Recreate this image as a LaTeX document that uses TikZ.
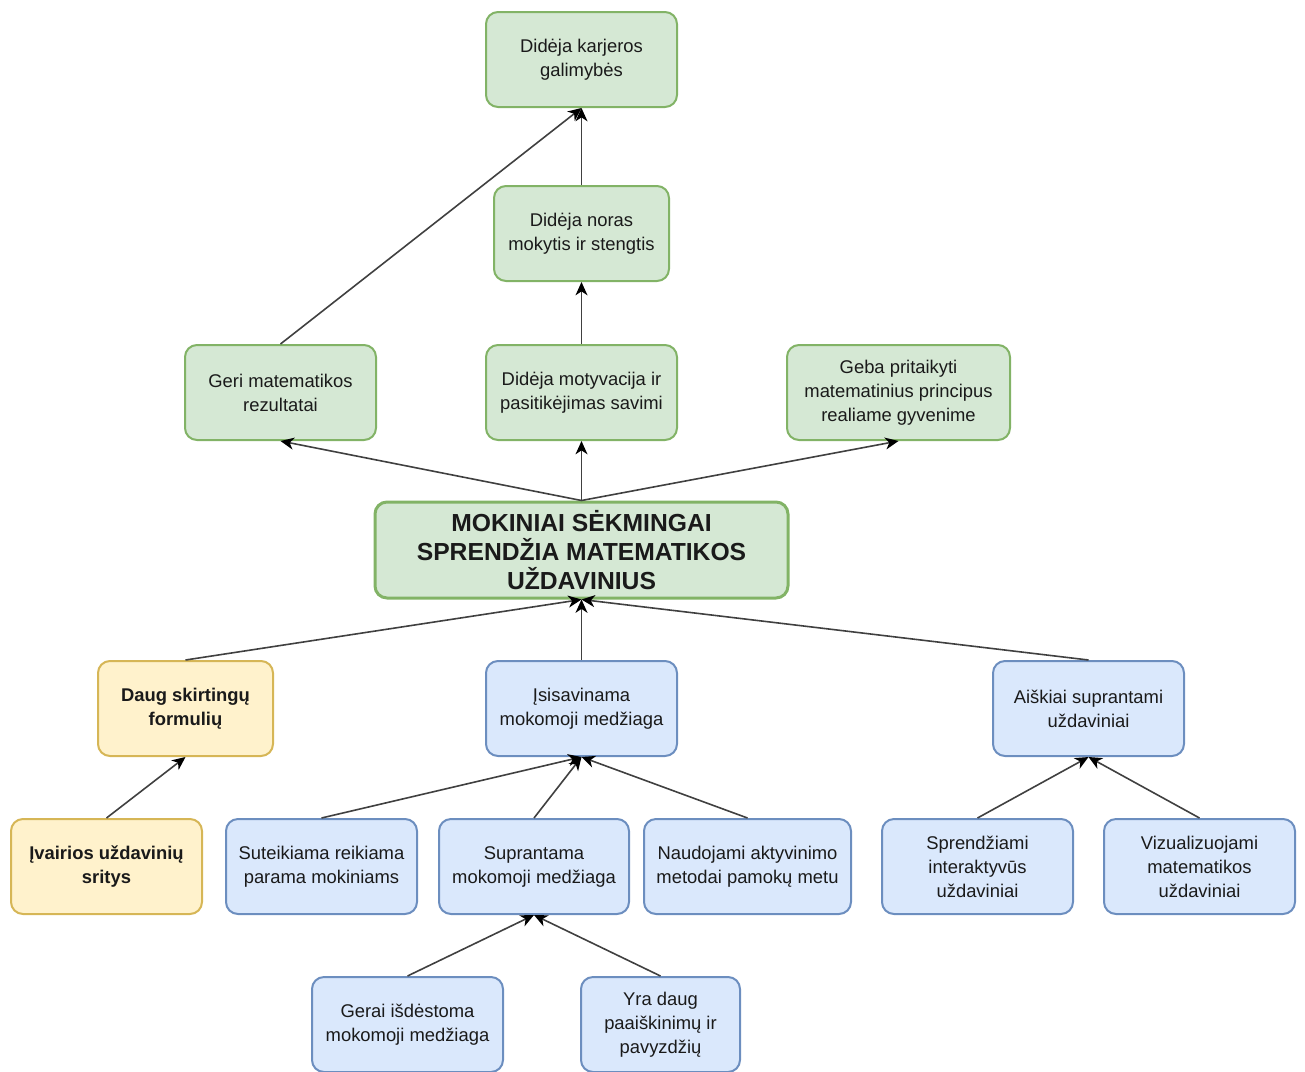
\documentclass[tikz,border=0pt]{standalone}
\usepackage{fontspec}
\setmainfont{Liberation Sans}
\usetikzlibrary{arrows.meta}
\definecolor{gfill}{HTML}{D5E8D4}
\definecolor{gdraw}{HTML}{82B366}
\definecolor{yfill}{HTML}{FFF2CC}
\definecolor{ydraw}{HTML}{D6B656}
\definecolor{bfill}{HTML}{DAE8FC}
\definecolor{bdraw}{HTML}{6C8EBF}
\definecolor{txt}{HTML}{1A1A1A}
\tikzset{
  box/.style={rectangle, rounded corners=9pt, line width=1.5pt, inner sep=0pt,
    minimum width=#1, minimum height=71.25pt, align=center, text=txt,
    font=\fontsize{13.8pt}{18pt}\selectfont},
  gbox/.style={box=#1, fill=gfill, draw=gdraw},
  ybox/.style={box=#1, fill=yfill, draw=ydraw, font=\fontsize{13.8pt}{18pt}\selectfont\bfseries},
  bbox/.style={box=#1, fill=bfill, draw=bdraw},
  link/.style={draw=black!75, line width=1.2pt,
    -{Stealth[length=10pt,width=9pt,inset=3pt,color=black]}},
}
\begin{document}
\begin{tikzpicture}[x=0.75pt, y=-0.75pt]
\useasboundingbox (0,0) rectangle (1305,1071);

% outcomes
\node[gbox=143.25pt] (karj) at (581.5,59.5) {Didėja karjeros\\galimybės};
\node[gbox=131.25pt] (noras) at (581.5,233.5) {Didėja noras\\mokytis ir stengtis};
\node[gbox=143.25pt] (geri) at (280.5,392.5) {Geri matematikos\\rezultatai};
\node[gbox=143.25pt] (motyv) at (581.5,392.5) {Didėja motyvacija ir\\pasitikėjimas savimi};
\node[gbox=167.25pt] (geba) at (898.5,392.5) {Geba pritaikyti\\matematinius principus\\realiame gyvenime};

% central statement
\node[box=309.75pt, minimum height=72pt, fill=gfill, draw=gdraw, line width=2.25pt,
      font=\fontsize{18.5pt}{21.75pt}\selectfont\bfseries] (main) at (581.5,550)
  {MOKINIAI SĖKMINGAI\\SPRENDŽIA MATEMATIKOS\\UŽDAVINIUS};

% causes
\node[ybox=131.25pt] (daug) at (185.5,708.5) {Daug skirtingų\\formulių};
\node[bbox=143.25pt] (isis) at (581.5,708.5) {Įsisavinama\\mokomoji medžiaga};
\node[bbox=143.25pt] (aisk) at (1088.5,708.5) {Aiškiai suprantami\\uždaviniai};

\node[ybox=143.25pt] (ivair) at (106.5,866.5) {Įvairios uždavinių\\sritys};
\node[bbox=143.25pt] (suteik) at (321.5,866.5) {Suteikiama reikiama\\parama mokiniams};
\node[bbox=142.5pt] (supr) at (534,866.5) {Suprantama\\mokomoji medžiaga};
\node[bbox=155.25pt] (naud) at (747.5,866.5) {Naudojami aktyvinimo\\metodai pamokų metu};
\node[bbox=143.25pt] (spren) at (977.5,866.5) {Sprendžiami\\interaktyvūs\\uždaviniai};
\node[bbox=143.25pt] (vizu) at (1199.5,866.5) {Vizualizuojami\\matematikos\\uždaviniai};

\node[bbox=143.25pt] (gerai) at (407.5,1024.5) {Gerai išdėstoma\\mokomoji medžiaga};
\node[bbox=119.25pt] (yra) at (660.5,1024.5) {Yra daug\\paaiškinimų ir\\pavyzdžių};

% links, each pointing to the node it leads to
\draw[link] (geri.north) -- (karj.south);
\draw[link] (noras.north) -- (karj.south);
\draw[link] (motyv.north) -- (noras.south);
\draw[link] (main.north) -- (geri.south);
\draw[link] (main.north) -- (motyv.south);
\draw[link] (main.north) -- (geba.south);
\draw[link] (daug.north) -- (main.south);
\draw[link] (isis.north) -- (main.south);
\draw[link] (aisk.north) -- (main.south);
\draw[link] (ivair.north) -- (daug.south);
\draw[link] (suteik.north) -- (isis.south);
\draw[link] (supr.north) -- (isis.south);
\draw[link] (naud.north) -- (isis.south);
\draw[link] (spren.north) -- (aisk.south);
\draw[link] (vizu.north) -- (aisk.south);
\draw[link] (gerai.north) -- (supr.south);
\draw[link] (yra.north) -- (supr.south);
\end{tikzpicture}
\end{document}
